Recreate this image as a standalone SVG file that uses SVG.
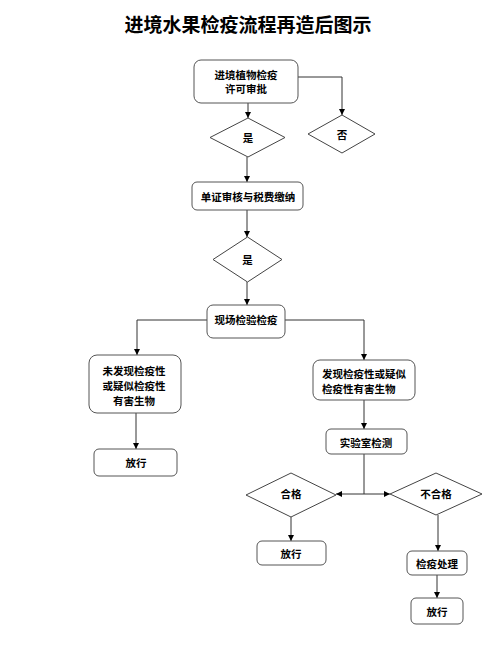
<svg xmlns="http://www.w3.org/2000/svg" width="500" height="646" viewBox="0 0 500 646">
<style>
.bx{fill:#fff;stroke:#555;stroke-width:1}
.dm{fill:#fff;stroke:#444;stroke-width:1}
.ln{fill:none;stroke:#333;stroke-width:1}
text{font-family:"Noto Sans CJK SC","Liberation Sans",sans-serif;font-weight:bold;fill:#000;font-size:10.5px;text-anchor:middle;dominant-baseline:central}
.title{font-size:19px}
</style>
<defs>
<marker id="ah" viewBox="0 0 8 8" refX="8" refY="4" markerWidth="6" markerHeight="6" markerUnits="userSpaceOnUse" orient="auto">
<path d="M0,0 L8,4 L0,8 z" fill="#000"/>
</marker>
</defs>
<rect width="500" height="646" fill="#fff"/>
<text class="title" x="248" y="23">进境水果检疫流程再造后图示</text>
<g id="connectors">
<path class="ln" d="M248,103 V118" marker-end="url(#ah)"/>
<path class="ln" d="M298,77 H342 V115" marker-end="url(#ah)"/>
<path class="ln" d="M247,157 V182" marker-end="url(#ah)"/>
<path class="ln" d="M247,210 V237" marker-end="url(#ah)"/>
<path class="ln" d="M247,282 V305" marker-end="url(#ah)"/>
<path class="ln" d="M207,320 H137 V355" marker-end="url(#ah)"/>
<path class="ln" d="M285,320 H364 V360" marker-end="url(#ah)"/>
<path class="ln" d="M136,413 V449" marker-end="url(#ah)"/>
<path class="ln" d="M364,400 V429" marker-end="url(#ah)"/>
<path class="ln" d="M364,454 V494 H336" marker-end="url(#ah)"/>
<path class="ln" d="M364,494 H390" marker-end="url(#ah)"/>
<path class="ln" d="M291,517 V541" marker-end="url(#ah)"/>
<path class="ln" d="M438,515 V551" marker-end="url(#ah)"/>
<path class="ln" d="M437,575 V598" marker-end="url(#ah)"/>
</g>
<g id="n1"><rect class="bx" x="194" y="60" width="104" height="43" rx="7"/><text x="246" y="74">进境植物检疫</text><text x="246" y="88">许可审批</text></g>
<g id="n2"><path class="dm" d="M248,118 L285,137.5 L248,157 L210,137.5 Z"/><text x="248" y="137">是</text></g>
<g id="n3"><path class="dm" d="M342,115 L375,134 L342,153 L308,134 Z"/><text x="342" y="134">否</text></g>
<g id="n4"><rect class="bx" x="192" y="182" width="111" height="28" rx="5"/><text x="248" y="196">单证审核与税费缴纳</text></g>
<g id="n5"><path class="dm" d="M247.5,237 L282,259.5 L247.5,282 L213,259.5 Z"/><text x="247.5" y="259">是</text></g>
<g id="n6"><rect class="bx" x="207" y="305" width="78" height="33" rx="6"/><text x="246" y="319">现场检验检疫</text></g>
<g id="n7"><rect class="bx" x="89" y="355" width="92" height="58" rx="8"/><text x="134" y="370">未发现检疫性</text><text x="134" y="385">或疑似检疫性</text><text x="134" y="400">有害生物</text></g>
<g id="n8"><rect class="bx" x="313" y="360" width="102" height="40" rx="7"/><text x="322" y="373" style="text-anchor:start">发现检疫性或疑似</text><text x="322" y="388" style="text-anchor:start">检疫性有害生物</text></g>
<g id="n9"><rect class="bx" x="94" y="449" width="83" height="27" rx="5"/><text x="136" y="462">放行</text></g>
<g id="n10"><rect class="bx" x="326" y="429" width="81" height="25" rx="5"/><text x="366" y="442">实验室检测</text></g>
<g id="n11"><path class="dm" d="M291,473 L336,495 L291,517 L246,495 Z"/><text x="291" y="493">合格</text></g>
<g id="n12"><path class="dm" d="M436,473 L482,494 L436,515 L390,494 Z"/><text x="436" y="493">不合格</text></g>
<g id="n13"><rect class="bx" x="257" y="541" width="69" height="24" rx="5"/><text x="291" y="553">放行</text></g>
<g id="n14"><rect class="bx" x="407" y="551" width="60" height="24" rx="5"/><text x="437" y="563">检疫处理</text></g>
<g id="n15"><rect class="bx" x="411" y="598" width="52" height="26" rx="5"/><text x="437" y="611">放行</text></g>
</svg>
